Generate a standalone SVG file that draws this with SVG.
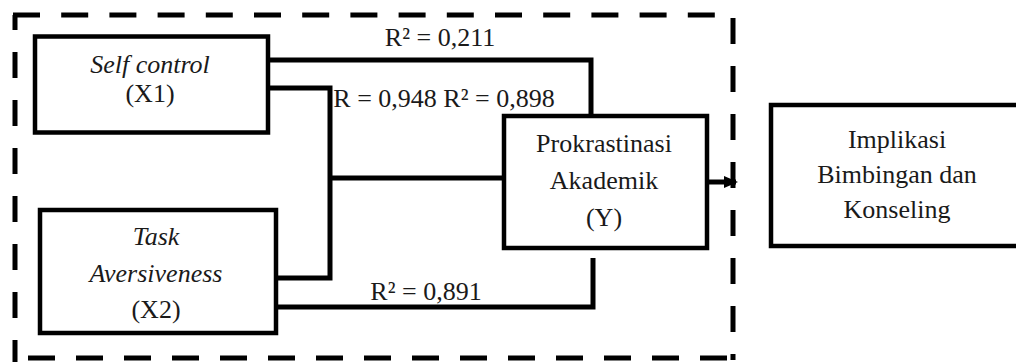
<svg xmlns="http://www.w3.org/2000/svg" width="1016" height="363" viewBox="0 0 1016 363">
<style>
.box{fill:#fff;stroke:#000;stroke-width:4.5}
.dash{fill:none;stroke:#000;stroke-width:5}
.con{fill:none;stroke:#000;stroke-width:5;stroke-linejoin:miter}
.t{font-family:'Liberation Serif','DejaVu Serif',serif;font-size:26px;fill:#1a1a1a;text-anchor:middle}
.it{font-style:italic}
</style>
<defs>
<marker id="arr" markerWidth="14" markerHeight="14" refX="12" refY="7" orient="auto" markerUnits="userSpaceOnUse">
<path d="M0,1 L14,7 L0,13 Z" fill="#000"/>
</marker>
</defs>
<g id="frame">
<line class="dash" x1="13" y1="15" x2="735" y2="15" stroke-dasharray="27 21.2"/>
<line class="dash" x1="15" y1="15" x2="15" y2="362" stroke-dasharray="26 22" stroke-dashoffset="11"/>
<line class="dash" x1="733" y1="18" x2="733" y2="360" stroke-dasharray="26 22"/>
<line class="dash" x1="28" y1="358" x2="735" y2="358" stroke-dasharray="27 21"/>
</g>
<g id="connectors">
<path class="con" d="M268,60 H591 V115"/>
<path class="con" d="M268,88 H330 V278 H276"/>
<path class="con" d="M330,178 H503"/>
<path class="con" d="M276,307 H593 V258"/>
<path class="con" d="M707,182 H736" marker-end="url(#arr)"/>
</g>
<g id="labels">
<text class="t" x="440" y="46">R² = 0,211</text>
<text class="t" x="444" y="107">R = 0,948 R² = 0,898</text>
<text class="t" x="426" y="300">R² = 0,891</text>
</g>
<g id="x1">
<rect class="box" x="35" y="36.5" width="233" height="96"/>
<text class="t it" x="150" y="73">Self control</text>
<text class="t" x="150" y="102">(X1)</text>
</g>
<g id="x2">
<rect class="box" x="40" y="210" width="236" height="123"/>
<text class="t it" x="156" y="245">Task</text>
<text class="t it" x="156" y="282">Aversiveness</text>
<text class="t" x="156" y="318">(X2)</text>
</g>
<g id="y">
<rect class="box" x="504" y="116" width="203" height="132"/>
<text class="t" x="604" y="152">Prokrastinasi</text>
<text class="t" x="604" y="189">Akademik</text>
<text class="t" x="604" y="226">(Y)</text>
</g>
<g id="implikasi">
<rect class="box" x="771" y="105" width="260" height="141"/>
<text class="t" x="897" y="148">Implikasi</text>
<text class="t" x="897" y="183">Bimbingan dan</text>
<text class="t" x="897" y="218">Konseling</text>
</g>
</svg>
